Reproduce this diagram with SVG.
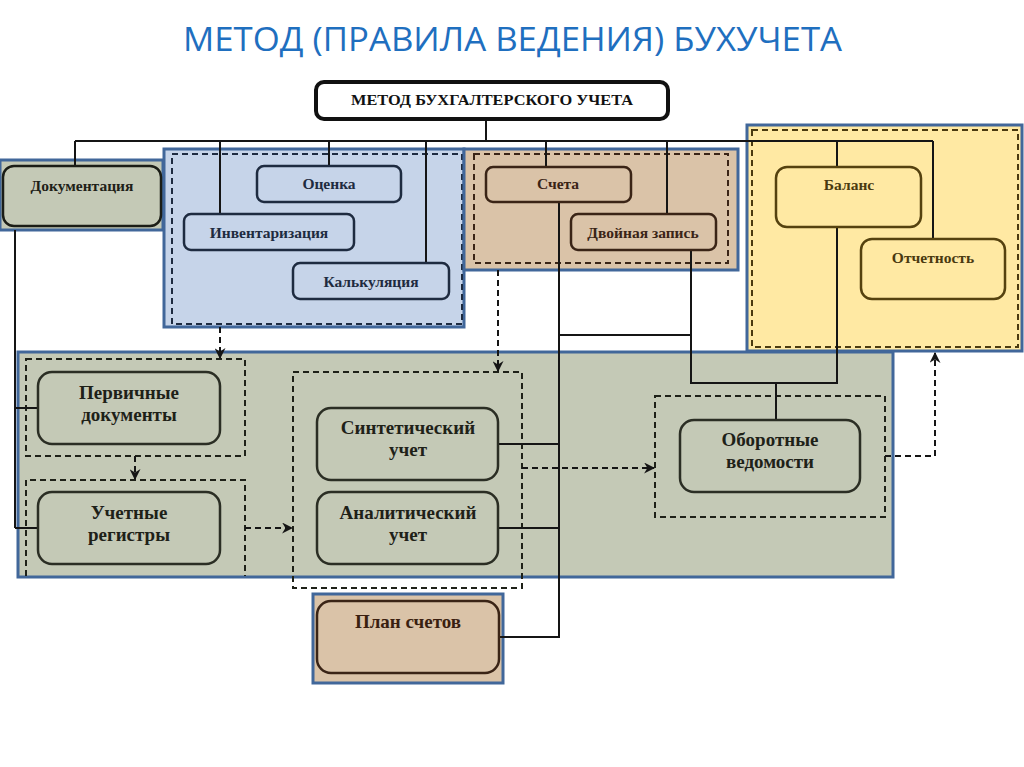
<svg xmlns="http://www.w3.org/2000/svg" width="1024" height="767" viewBox="0 0 1024 767">
<style>
.title{font-family:"Open Sans","Liberation Sans",sans-serif;font-size:33px;fill:#1F6FBF}
.t{font-family:"Liberation Serif","DejaVu Serif",serif;font-weight:bold;text-anchor:middle}
.s{font-size:15.5px}
.b{font-size:19px}
.cont{stroke:#41679A;stroke-width:3}
.dash{fill:none;stroke-width:2;stroke-dasharray:6 4}
.node{stroke-width:2.5}
.gg{fill:#C4C9B6}
.bl{fill:#C6D4E9}
.tn{fill:#DAC3A8}
.yl{fill:#FFE9A3}
.ln{fill:none;stroke:#151515;stroke-width:2}
.da{fill:none;stroke:#151515;stroke-width:2;stroke-dasharray:6 4}
</style>
<defs>
<marker id="ah" viewBox="0 0 10 10" refX="9" refY="5" markerWidth="11" markerHeight="11" orient="auto" markerUnits="userSpaceOnUse">
<path d="M0,0 L10,5 L0,10 L3,5 Z" fill="#151515"/>
</marker>
</defs>
<rect width="1024" height="767" fill="#FFFFFF"/>
<text class="title" x="183" y="51" textLength="659" lengthAdjust="spacingAndGlyphs">МЕТОД (ПРАВИЛА ВЕДЕНИЯ) БУХУЧЕТА</text>

<!-- containers -->
<g id="grp-doc"><rect class="cont gg" x="0" y="160" width="163" height="70"/></g>
<g id="grp-blue"><rect class="cont bl" x="164" y="149" width="300" height="178"/><rect class="dash" stroke="#1E2B40" x="172" y="154" width="290" height="170"/></g>
<g id="grp-tan"><rect class="cont tn" x="464" y="149" width="274" height="121"/><rect class="dash" stroke="#3A2416" x="474" y="154" width="254" height="109"/></g>
<g id="grp-yellow"><rect class="cont yl" x="747" y="125" width="275" height="226"/><rect class="dash" stroke="#4A3A10" x="752" y="130" width="266" height="217"/></g>
<g id="grp-main"><rect class="cont gg" x="18" y="352" width="875" height="225"/>
<rect class="dash" stroke="#1E2118" x="26" y="359" width="219" height="97"/>
<path class="dash" stroke="#1E2118" d="M26,576 V480 H245 V576"/>
<rect class="dash" stroke="#1E2118" x="293" y="372" width="229" height="216"/>
<rect class="dash" stroke="#1E2118" x="655" y="396" width="230" height="121"/>
</g>
<g id="grp-plan"><rect class="cont tn" x="313" y="594" width="190" height="89"/></g>

<!-- connectors -->
<g id="connectors">
<path class="ln" d="M486,119 V141 M75,141 H933 M75,141 V166 M220,141 V214 M329,141 V166 M426,141 V263 M546,141 V167 M667,141 V214 M837,141 V167 M933,141 V239"/>
<path class="ln" d="M15,230 V528 M15,408 H38 M15,528 H38"/>
<path class="ln" d="M559,202 V637 H499 M498,444 H559 M498,528 H559 M559,335 H691 M691,250 V383 H837 V227 M776,383 V420"/>
<path class="da" d="M220,327 V358" marker-end="url(#ah)"/>
<path class="da" d="M498,270 V371" marker-end="url(#ah)"/>
<path class="da" d="M135,456 V479" marker-end="url(#ah)"/>
<path class="da" d="M245,528 H292" marker-end="url(#ah)"/>
<path class="da" d="M522,468 H654" marker-end="url(#ah)"/>
<path class="da" d="M885,456 H935 V353" marker-end="url(#ah)"/>
</g>

<!-- nodes -->
<g id="n-method"><rect x="316" y="82" width="352" height="37" rx="8" fill="#FFFFFF" stroke="#111" stroke-width="4"/><text class="t" x="492" y="105" font-size="14.5" fill="#111" textLength="282" lengthAdjust="spacingAndGlyphs">МЕТОД БУХГАЛТЕРСКОГО УЧЕТА</text></g>
<g id="n-doc"><rect class="node gg" stroke="#1B1D16" x="3" y="166" width="158" height="60" rx="11"/><text class="t s" x="82" y="191" fill="#1E2118">Документация</text></g>
<g id="n-ocenka"><rect class="node bl" stroke="#1E2B40" x="257" y="166" width="144" height="36" rx="7"/><text class="t s" x="329" y="189" fill="#1E2B40">Оценка</text></g>
<g id="n-invent"><rect class="node bl" stroke="#1E2B40" x="184" y="214" width="170" height="36" rx="7"/><text class="t s" x="269" y="238" fill="#1E2B40">Инвентаризация</text></g>
<g id="n-kalk"><rect class="node bl" stroke="#1E2B40" x="293" y="263" width="156" height="36" rx="7"/><text class="t s" x="371" y="287" fill="#1E2B40">Калькуляция</text></g>
<g id="n-scheta"><rect class="node tn" stroke="#3A2416" x="486" y="167" width="145" height="35" rx="7"/><text class="t s" x="558" y="189" fill="#3A2416">Счета</text></g>
<g id="n-dvoin"><rect class="node tn" stroke="#3A2416" x="571" y="214" width="145" height="36" rx="7"/><text class="t s" x="643" y="238" fill="#3A2416">Двойная запись</text></g>
<g id="n-balans"><rect class="node yl" stroke="#55420F" x="776" y="167" width="145" height="60" rx="11"/><text class="t s" x="849" y="190" fill="#4A3A10">Баланс</text></g>
<g id="n-otchet"><rect class="node yl" stroke="#55420F" x="861" y="239" width="144" height="60" rx="11"/><text class="t s" x="933" y="263" fill="#4A3A10">Отчетность</text></g>
<g id="n-perv"><rect class="node gg" stroke="#2B2E24" stroke-width="2" x="38" y="372" width="182" height="72" rx="14"/><text class="t b" fill="#1E2118"><tspan x="129" y="399">Первичные</tspan><tspan x="129" y="421">документы</tspan></text></g>
<g id="n-uchet"><rect class="node gg" stroke="#2B2E24" stroke-width="2" x="38" y="492" width="182" height="72" rx="14"/><text class="t b" fill="#1E2118"><tspan x="129" y="519">Учетные</tspan><tspan x="129" y="541">регистры</tspan></text></g>
<g id="n-sint"><rect class="node gg" stroke="#2B2E24" stroke-width="2" x="317" y="408" width="181" height="72" rx="14"/><text class="t b" fill="#1E2118"><tspan x="408" y="434">Синтетический</tspan><tspan x="408" y="456">учет</tspan></text></g>
<g id="n-anal"><rect class="node gg" stroke="#2B2E24" stroke-width="2" x="317" y="492" width="181" height="72" rx="14"/><text class="t b" fill="#1E2118"><tspan x="408" y="519">Аналитический</tspan><tspan x="408" y="541">учет</tspan></text></g>
<g id="n-oborot"><rect class="node gg" stroke="#2B2E24" stroke-width="2" x="680" y="420" width="180" height="72" rx="14"/><text class="t b" fill="#1E2118"><tspan x="770" y="446">Оборотные</tspan><tspan x="770" y="468">ведомости</tspan></text></g>
<g id="n-plan"><rect class="node tn" stroke="#3A2416" stroke-width="2" x="317" y="601" width="182" height="72" rx="14"/><text class="t b" x="408" y="628" fill="#3A1F10">План счетов</text></g>
</svg>
